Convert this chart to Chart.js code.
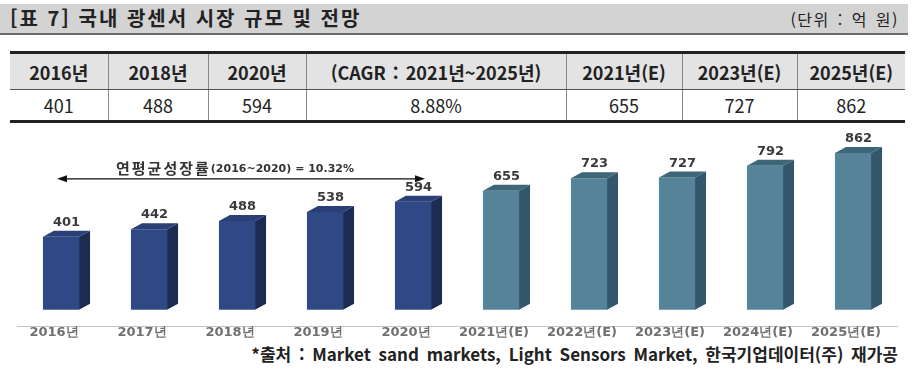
<!DOCTYPE html>
<html lang="ko">
<head>
<meta charset="UTF-8">
<title>국내 광센서 시장 규모 및 전망</title>
<script src="https://cdn.jsdelivr.net/npm/chart.js@4"></script>
<style>
  body {
    margin: 0;
    width: 918px;
    height: 369px;
    position: relative;
    overflow: hidden;
    background: #fff;
    color: #222;
    font-family: "Noto Sans CJK KR", sans-serif;
  }
  .titlebar {
    position: absolute;
    left: 0;
    top: 4px;
    width: 908px;
    height: 29px;
    background: #d3d3d3;
    border-bottom: 2px solid #6a6a6a;
  }
  .titlebar .t {
    position: absolute;
    left: 10px;
    top: 2px;
    font-size: 20px;
    font-weight: bold;
    letter-spacing: 2px;
    line-height: 24px;
  }
  .titlebar .u {
    position: absolute;
    right: 9px;
    top: 3px;
    font-size: 16px;
    letter-spacing: 1.5px;
    word-spacing: 2px;
    line-height: 24px;
  }
  table {
    position: absolute;
    left: 10px;
    top: 51px;
    width: 895px;
    border-collapse: collapse;
    table-layout: fixed;
    border-top: 3px solid #222;
    border-bottom: 3px solid #222;
  }
  th, td {
    padding: 0;
    text-align: center;
    font-size: 18px;
    border-left: 1px solid #888;
  }
  th:first-child, td:first-child { border-left: none; }
  th {
    height: 35px;
    background: #e3e3e3;
    font-weight: bold;
    border-bottom: 1px solid #555;
    word-spacing: 2px;
  }
  td { height: 30px; }
  #chartWrap {
    position: absolute;
    left: 0;
    top: 125px;
    width: 918px;
    height: 214px;
  }
  .src {
    position: absolute;
    right: 20px;
    top: 344px;
    font-size: 17px;
    font-weight: bold;
    word-spacing: 3px;
    line-height: 20px;
  }
</style>
</head>
<body>
  <div class="titlebar">
    <div class="t">[표 7] 국내 광센서 시장 규모 및 전망</div>
    <div class="u">(단위 : 억 원)</div>
  </div>

  <table id="summary">
    <colgroup>
      <col style="width:98px"><col style="width:100px"><col style="width:98px">
      <col style="width:260px"><col style="width:116px"><col style="width:115px"><col style="width:108px">
    </colgroup>
    <thead><tr id="headRow"></tr></thead>
    <tbody><tr id="valueRow"></tr></tbody>
  </table>

  <div id="chartWrap">
    <canvas id="marketChart" width="918" height="214"></canvas>
  </div>

  <div class="src">*출처 : Market sand markets, Light Sensors Market, 한국기업데이터(주) 재가공</div>

<script>
  // table data
  const tableHeaders = ['2016년', '2018년', '2020년', '(CAGR : 2021년~2025년)', '2021년(E)', '2023년(E)', '2025년(E)'];
  const tableValues = ['401', '488', '594', '8.88%', '655', '727', '862'];

  // chart data (억 원)
  const years = ['2016년', '2017년', '2018년', '2019년', '2020년',
                 '2021년(E)', '2022년(E)', '2023년(E)', '2024년(E)', '2025년(E)'];
  const marketSize = [401, 442, 488, 538, 594, 655, 723, 727, 792, 862];
  const cagrLabel = '연평균성장률';
  const cagrValue = '(2016~2020) = 10.32%';

  tableHeaders.forEach(h => {
    const th = document.createElement('th');
    th.textContent = h;
    document.getElementById('headRow').appendChild(th);
  });
  tableValues.forEach(v => {
    const td = document.createElement('td');
    td.textContent = v;
    document.getElementById('valueRow').appendChild(td);
  });

  const navy = { front: '#2f4886', side: '#1d2b52', top: '#293f75' };
  const teal = { front: '#55849a', side: '#33566a', top: '#3d6679' };
  const isEstimate = i => years[i].includes('(E)');

  const DX = 11, DY = -6;

  // draws the side / top faces, value labels and the CAGR arrow
  const bar3d = {
    id: 'bar3d',
    afterDatasetsDraw(chart) {
      const ctx = chart.ctx;
      const meta = chart.getDatasetMeta(0);
      ctx.save();
      meta.data.forEach((bar, i) => {
        const pal = isEstimate(i) ? teal : navy;
        const l = bar.x - bar.width / 2;
        const r = bar.x + bar.width / 2;

        ctx.fillStyle = pal.side;
        ctx.beginPath();
        ctx.moveTo(r, bar.y);
        ctx.lineTo(r + DX, bar.y + DY);
        ctx.lineTo(r + DX, bar.base + DY);
        ctx.lineTo(r, bar.base);
        ctx.closePath();
        ctx.fill();

        ctx.fillStyle = pal.top;
        ctx.beginPath();
        ctx.moveTo(l, bar.y);
        ctx.lineTo(l + DX, bar.y + DY);
        ctx.lineTo(r + DX, bar.y + DY);
        ctx.lineTo(r, bar.y);
        ctx.closePath();
        ctx.fill();

        ctx.fillStyle = '#3a3a3a';
        ctx.font = 'bold 13px "DejaVu Sans"';
        ctx.textAlign = 'center';
        ctx.textBaseline = 'alphabetic';
        ctx.fillText(marketSize[i], bar.x + DX / 2, bar.y + DY - 5);
      });

      // arrow over the actual years
      const xs = chart.scales.x, ys = chart.scales.y;
      const x0 = xs.getPixelForValue(0) - 4;
      const x1 = xs.getPixelForValue(4) + 12;
      const ay = ys.getPixelForValue(720);
      ctx.strokeStyle = '#111';
      ctx.fillStyle = '#111';
      ctx.lineWidth = 1.3;
      ctx.beginPath();
      ctx.moveTo(x0 + 6, ay);
      ctx.lineTo(x1 - 6, ay);
      ctx.stroke();
      [[x0, 1], [x1, -1]].forEach(([x, d]) => {
        ctx.beginPath();
        ctx.moveTo(x, ay);
        ctx.lineTo(x + 10 * d, ay - 3.5);
        ctx.lineTo(x + 10 * d, ay + 3.5);
        ctx.closePath();
        ctx.fill();
      });

      const ty = ys.getPixelForValue(778);
      ctx.textBaseline = 'middle';
      ctx.textAlign = 'left';
      ctx.fillStyle = '#333';
      ctx.font = 'bold 15px "Noto Sans CJK KR"';
      ctx.letterSpacing = '2px';
      const w1 = ctx.measureText(cagrLabel).width;
      ctx.font = 'bold 11px "DejaVu Sans"';
      ctx.letterSpacing = '0px';
      const w2 = ctx.measureText(cagrValue).width;
      const tx = (x0 + x1) / 2 - (w1 + w2) / 2 - 6;
      ctx.font = 'bold 15px "Noto Sans CJK KR"';
      ctx.letterSpacing = '2px';
      ctx.fillText(cagrLabel, tx, ty);
      ctx.font = 'bold 11px "DejaVu Sans"';
      ctx.letterSpacing = '0px';
      ctx.fillText(cagrValue, tx + w1, ty + 1);
      ctx.restore();
    }
  };

  new Chart(document.getElementById('marketChart'), {
    type: 'bar',
    data: {
      labels: years,
      datasets: [{
        data: marketSize,
        backgroundColor: years.map((y, i) => isEstimate(i) ? teal.front : navy.front),
        borderWidth: 0,
        barPercentage: 0.41,
        categoryPercentage: 1
      }]
    },
    options: {
      responsive: false,
      animation: false,
      layout: { padding: { left: 17, right: 21, top: 3, bottom: 0 } },
      plugins: {
        legend: { display: false },
        tooltip: { enabled: false }
      },
      scales: {
        x: {
          grid: { display: false, drawTicks: false },
          border: { display: true, color: '#c4c4c4', width: 1 },
          ticks: {
            color: '#707070',
            font: { family: 'DejaVu Sans', size: 13, weight: 'bold', lineHeight: 1 },
            padding: 0,
            labelOffset: -7,
            autoSkip: false,
            maxRotation: 0
          }
        },
        y: {
          display: false,
          min: -90,
          max: 1000
        }
      }
    },
    plugins: [bar3d]
  });
</script>
</body>
</html>
